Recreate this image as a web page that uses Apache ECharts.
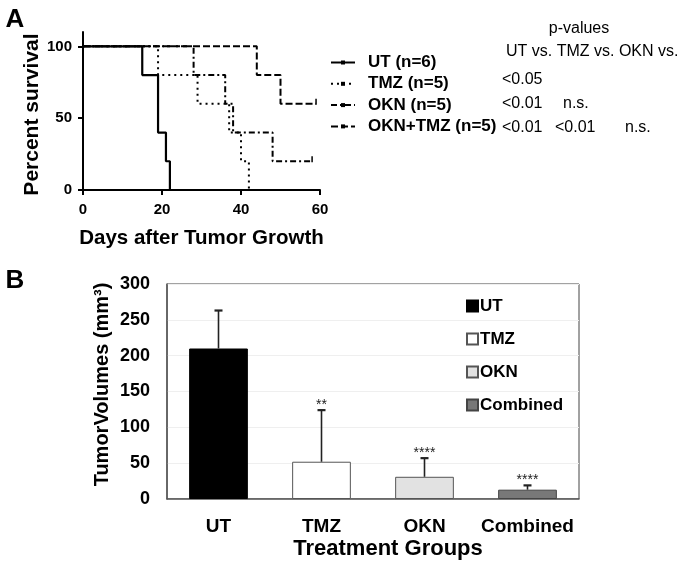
<!DOCTYPE html>
<html><head><meta charset="utf-8">
<script src="https://cdn.jsdelivr.net/npm/echarts@6/dist/echarts.min.js"></script>
<style>html,body{margin:0;padding:0;background:#fff}#c{width:680px;height:566px}</style>
</head><body><div id="c"></div>
<script>
// ---------- Panel A: Kaplan-Meier survival, [day, % survival] ----------
const survivalNames = ['UT (n=6)', 'TMZ (n=5)', 'OKN (n=5)', 'OKN+TMZ (n=5)'];
const survUT    = [[0,100],[15,80],[19,40],[21,20],[22,0]];
const survTMZ   = [[0,100],[19,80],[29,60],[37,40],[40,20],[42,0]];
const survOKN   = [[0,100],[28,80],[36,60],[38,40],[48,20],[58,20]];
const survCombo = [[0,100],[44,80],[50,60],[59,60]];
const censoredAtEnd = [false, false, true, true];
const survXTicks = [0, 20, 40, 60];
const survYTicks = [0, 50, 100];
// p-value table text
const pTitle = 'p-values';
const pHeader = 'UT vs. TMZ vs. OKN vs.';
const pRow1 = ['<0.05'];
const pRow2 = ['<0.01', 'n.s.'];
const pRow3 = ['<0.01', '<0.01', 'n.s.'];

// ---------- Panel B: tumor volumes ----------
const groups = ['UT', 'TMZ', 'OKN', 'Combined'];
const volumeMean = [210, 52, 31, 13];
const volumeErr  = [53, 72, 26, 6];
const signif = ['', '**', '****', '****'];
const volumeTicks = [0, 50, 100, 150, 200, 250, 300];

// ---------- build ----------
const FF = '"Liberation Sans", Arial, Helvetica, sans-serif';
const survData = [survUT, survTMZ, survOKN, survCombo];
const dashes = ['solid', [2, 4], [6, 3, 2, 3], [7, 3]];
const barColors = ['#000000', '#ffffff', '#e2e2e2', '#787878'];
const barBorders = ['#000000', '#555555', '#555555', '#444444'];

const survSeries = survData.map((pts, i) => ({
  type: 'line', name: survivalNames[i], xAxisIndex: 0, yAxisIndex: 0,
  step: 'end', symbol: 'rect', symbolSize: [1.5, 6], symbolOffset: [0, -2],
  showSymbol: true, animation: false, z: 5 - i,
  itemStyle: { color: '#000' },
  lineStyle: { color: '#000', width: i === 0 ? 2.2 : 2, type: dashes[i] },
  data: pts.map((p, j) => (censoredAtEnd[i] && j === pts.length - 1) ? { value: p } : { value: p, symbol: 'none' })
}));

const barSeries = groups.map((g, i) => ({
  type: 'bar', name: g, xAxisIndex: 1, yAxisIndex: 1, barWidth: '57%', barGap: '-100%',
  animation: false,
  itemStyle: { color: barColors[i], borderColor: barBorders[i], borderWidth: 1 },
  data: groups.map((_, j) => j === i ? volumeMean[j] : '-')
}));

const errSeries = {
  type: 'custom', xAxisIndex: 1, yAxisIndex: 1, z: 10, animation: false,
  data: groups.map((g, i) => [i, volumeMean[i], volumeMean[i] + volumeErr[i]]),
  encode: { x: 0, y: [1, 2] },
  renderItem(params, api) {
    const x = api.value(0);
    const lo = api.coord([x, api.value(1)]);
    const hi = api.coord([x, api.value(2)]);
    const half = 4;
    return { type: 'group', children: [
      { type: 'line', shape: { x1: lo[0], y1: lo[1], x2: hi[0], y2: hi[1] }, style: { stroke: '#222', lineWidth: 1.6 } },
      { type: 'line', shape: { x1: hi[0] - half, y1: hi[1], x2: hi[0] + half, y2: hi[1] }, style: { stroke: '#222', lineWidth: 2.2 } },
      { type: 'text', x: hi[0], y: hi[1] + 2, style: { text: signif[params.dataIndex], align: 'center', verticalAlign: 'bottom', fontSize: 14, fontFamily: FF, fill: '#222' } }
    ]};
  }
};

function txt(s, x, y, opt) {
  return Object.assign({ type: 'text', x: x, y: y, silent: true,
    style: Object.assign({ text: s, fontFamily: FF, fontSize: 16, fill: '#000', align: 'left', verticalAlign: 'middle' }, opt || {}) });
}
const graphics = [
  txt('A', 15, 20, { fontSize: 26, fontWeight: 'bold', align: 'center' }),
  txt('B', 15, 281, { fontSize: 26, fontWeight: 'bold', align: 'center' }),
  txt(pTitle, 579, 29, { align: 'center' }),
  txt(pHeader, 506, 52),
  txt(pRow1[0], 502, 80),
  txt(pRow2[0], 502, 104), txt(pRow2[1], 563, 104),
  txt(pRow3[0], 502, 128), txt(pRow3[1], 555, 128), txt(pRow3[2], 625, 128)
];

const chart = echarts.init(document.getElementById('c'), null, { renderer: 'canvas' });
chart.setOption({
  animation: false,
  backgroundColor: '#fff',
  textStyle: { fontFamily: FF },
  grid: [
    { left: 83, top: 32, width: 237, height: 158 },
    { left: 167, top: 284, width: 412, height: 215, show: true, borderColor: '#444', borderWidth: 1, backgroundColor: 'transparent' }
  ],
  legend: [
    { data: survivalNames, orient: 'vertical', left: 330, top: 54, padding: 0, itemWidth: 24, itemHeight: 5, itemGap: 4.3,
      selectedMode: false,
      textStyle: { fontSize: 17, fontWeight: 'bold', color: '#000', fontFamily: FF, lineHeight: 17, padding: [0, 0, 0, 8] } },
    { data: groups, orient: 'vertical', left: 466, top: 297, padding: 0, itemWidth: 11, itemHeight: 11, itemGap: 15, icon: 'rect',
      selectedMode: false,
      textStyle: { fontSize: 17, fontWeight: 'bold', color: '#000', fontFamily: FF, lineHeight: 18, padding: [0, 0, 0, -3] } }
  ],
  xAxis: [
    { gridIndex: 0, type: 'value', min: 0, max: 60, interval: 20,
      name: 'Days after Tumor Growth', nameLocation: 'middle', nameGap: 38, nameMoveOverlap: false,
      nameTextStyle: { fontSize: 20.5, fontWeight: 'bold', color: '#000', fontFamily: FF },
      axisLine: { lineStyle: { color: '#000', width: 2 } },
      axisTick: { show: true, length: 5, lineStyle: { color: '#000', width: 2 }, customValues: survXTicks },
      axisLabel: { fontSize: 15, fontWeight: 'bold', color: '#000', margin: 12, customValues: survXTicks },
      splitLine: { show: false } },
    { gridIndex: 1, type: 'category', data: groups,
      name: 'Treatment Groups', nameLocation: 'middle', nameGap: 39, nameMoveOverlap: false,
      nameTextStyle: { fontSize: 22, fontWeight: 'bold', color: '#000', fontFamily: FF, padding: [0, 0, 0, 30] },
      axisLine: { lineStyle: { color: '#555', width: 1.5 } },
      axisTick: { show: false },
      axisLabel: { interval: 0, fontSize: 19, fontWeight: 'bold', color: '#000', margin: 18 },
      splitLine: { show: false } }
  ],
  yAxis: [
    { gridIndex: 0, type: 'value', min: 0, max: 110, interval: 50,
      name: 'Percent survival', nameLocation: 'middle', nameGap: 40, nameMoveOverlap: false,
      nameTextStyle: { fontSize: 21, fontWeight: 'bold', color: '#000', fontFamily: FF, padding: [0, 7, 0, 0] },
      axisLine: { show: true, lineStyle: { color: '#000', width: 2 } },
      axisTick: { show: true, length: 5, lineStyle: { color: '#000', width: 2 }, customValues: survYTicks },
      axisLabel: { fontSize: 15, fontWeight: 'bold', color: '#000', margin: 11, customValues: survYTicks,
        formatter: v => (v > 100 ? '' : String(v)) },
      splitLine: { show: false } },
    { gridIndex: 1, type: 'value', min: 0, max: 300, interval: 50,
      name: 'TumorVolumes (mm³)', nameLocation: 'middle', nameGap: 55, nameMoveOverlap: false,
      nameTextStyle: { fontSize: 20, fontWeight: 'bold', color: '#000', fontFamily: FF, padding: [0, 0, 0, 14] },
      axisLine: { show: true, lineStyle: { color: '#555', width: 1.5 } },
      axisTick: { show: false },
      axisLabel: { fontSize: 18, fontWeight: 'bold', color: '#000', margin: 17, customValues: volumeTicks },
      splitLine: { show: true, lineStyle: { color: '#efefef', width: 1 } } }
  ],
  graphic: graphics,
  series: [...survSeries, ...barSeries, errSeries]
});
</script>
</body></html>
